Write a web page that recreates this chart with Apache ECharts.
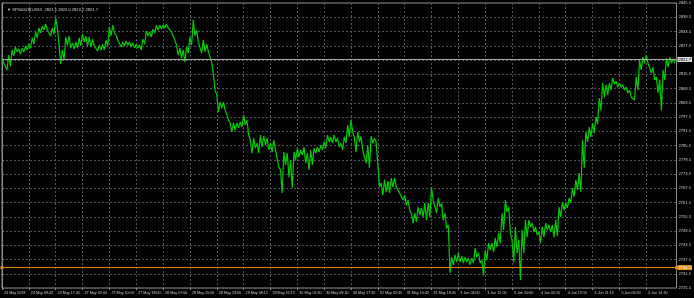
<!DOCTYPE html>
<html>
<head>
<meta charset="utf-8">
<script src="https://cdn.jsdelivr.net/npm/echarts@6/dist/echarts.min.js"></script>
<style>
html,body{margin:0;padding:0;background:#000;}
#chart{width:694px;height:298px;}
</style>
</head>
<body>
<div id="chart"></div>
<script>
// ---- data (SP500USD, M15) ----
const titleText = '\u25BC SP500USD,M15  2821.1 2822.0 2820.2 2821.7';
const xLabels = ['23 May 2019','24 May 09:45','24 May 17:45','27 May 02:00','27 May 10:00','27 May 18:00',
  '28 May 07:00','28 May 15:00','28 May 23:00','29 May 08:15','29 May 16:15','30 May 01:30',
  '30 May 09:30','30 May 17:30','31 May 02:45','31 May 10:45','31 May 18:45','3 Jun 04:00',
  '3 Jun 12:00','3 Jun 20:00','4 Jun 05:15','4 Jun 13:15','4 Jun 21:15','5 Jun 06:30','5 Jun 14:30'];
const barsPerLabel = 32;
const barsPerSample = 4;
const yMin = 2725.5, yMax = 2845.5, yStep = 6;
const bidPrice = 2821.7;
const levelPrice = 2734.1;

const highs = [
 2822.3,2820.2,2823.6,2825.7,2827.0,2826.1,2826.5,2827.4,2828.2,2830.8,
 2833.3,2835.0,2835.8,2836.7,2834.5,2835.0,2839.2,2827.8,2825.7,2831.2,
 2831.6,2828.7,2829.1,2830.8,2832.4,2831.6,2831.2,2830.3,2827.8,2827.8,
 2828.2,2829.9,2835.4,2836.2,2832.0,2829.5,2829.1,2829.5,2829.1,2828.7,
 2828.2,2827.8,2830.3,2833.7,2833.3,2834.5,2836.2,2836.2,2836.2,2836.7,
 2835.8,2832.9,2827.8,2826.5,2825.7,2827.0,2831.2,2838.3,2834.1,2829.1,
 2829.9,2828.2,2824.4,2815.2,2806.7,2803.8,2803.8,2800.4,2795.0,2795.0,
 2795.0,2795.4,2798.3,2796.2,2787.8,2788.6,2786.5,2789.9,2789.5,2788.6,
 2786.5,2787.8,2783.6,2775.2,2782.7,2782.3,2779.4,2782.7,2784.4,2783.6,
 2784.8,2782.3,2783.6,2784.4,2784.8,2785.7,2787.0,2789.9,2789.1,2789.9,
 2788.6,2786.5,2789.1,2794.1,2796.2,2789.1,2791.2,2789.1,2783.6,2785.7,
 2789.5,2788.6,2777.3,2769.7,2771.0,2770.5,2771.8,2771.8,2768.0,2765.9,
 2764.6,2762.5,2757.0,2757.0,2759.6,2759.2,2761.3,2761.3,2768.0,2762.5,
 2763.4,2761.3,2757.0,2752.0,2738.5,2739.4,2740.2,2738.9,2738.5,2738.1,
 2738.1,2742.3,2740.2,2737.3,2741.5,2744.4,2744.4,2746.5,2748.6,2757.0,
 2762.5,2759.6,2745.7,2751.2,2745.7,2749.9,2754.1,2754.1,2752.8,2751.2,
 2749.0,2751.2,2752.8,2752.0,2752.0,2754.1,2759.6,2761.7,2761.3,2763.4,
 2767.6,2771.0,2773.9,2787.8,2791.2,2793.3,2795.0,2797.5,2805.5,2811.8,
 2811.0,2811.8,2813.9,2812.6,2811.8,2811.0,2810.1,2808.9,2806.7,2814.3,
 2821.5,2822.7,2823.6,2819.4,2818.5,2814.3,2813.1,2817.3,2822.3,2822.7,2822.0
];
const lows = [
 2820.2,2817.3,2818.9,2823.2,2824.9,2824.0,2824.9,2825.7,2826.5,2828.2,
 2830.8,2832.9,2834.1,2834.1,2831.6,2832.4,2835.0,2819.8,2821.5,2827.8,
 2826.5,2826.1,2826.5,2827.4,2829.1,2827.4,2827.0,2827.4,2825.3,2825.7,
 2825.7,2827.4,2831.6,2832.9,2829.9,2827.0,2827.4,2827.8,2827.0,2826.5,
 2826.5,2825.7,2828.2,2831.6,2831.2,2832.9,2834.1,2834.5,2835.0,2835.0,
 2833.3,2829.9,2823.6,2822.3,2820.6,2824.4,2827.8,2831.6,2829.1,2824.4,
 2824.9,2824.9,2820.6,2808.9,2799.6,2801.3,2800.4,2796.2,2791.2,2792.0,
 2792.9,2793.3,2794.1,2789.9,2782.3,2784.4,2782.3,2784.8,2785.7,2783.6,
 2782.7,2783.6,2776.4,2765.5,2777.3,2772.2,2767.6,2779.4,2780.6,2781.5,
 2778.1,2775.2,2777.3,2782.3,2782.7,2783.6,2784.4,2787.0,2786.5,2787.0,
 2784.8,2783.6,2786.5,2789.1,2791.2,2782.7,2787.0,2783.6,2778.1,2776.0,
 2786.5,2787.0,2768.0,2764.6,2765.9,2765.5,2768.0,2768.0,2765.5,2762.5,
 2760.4,2758.3,2752.8,2753.3,2756.2,2755.4,2754.1,2755.4,2762.5,2757.0,
 2759.6,2754.1,2750.7,2731.8,2735.2,2736.4,2736.4,2736.0,2736.4,2735.2,
 2736.0,2738.5,2736.0,2730.9,2737.3,2741.5,2740.6,2742.7,2744.4,2749.9,
 2757.5,2748.6,2736.4,2740.2,2728.8,2740.2,2746.9,2751.2,2749.0,2747.8,
 2744.4,2746.9,2749.9,2749.0,2746.9,2747.4,2755.4,2758.3,2759.2,2761.3,
 2763.8,2766.7,2765.9,2776.0,2787.0,2789.1,2790.7,2794.5,2800.4,2805.9,
 2806.7,2808.9,2811.4,2810.1,2810.1,2808.9,2807.6,2805.9,2804.6,2808.9,
 2817.3,2820.2,2820.2,2816.0,2813.1,2807.6,2800.4,2813.1,2818.5,2820.2,2820.2
];

// ---- build series (bar index on x) ----
const seriesData = [];
for (let j = 0; j < highs.length; j++) {
  seriesData.push([j * barsPerSample, highs[j]]);
  seriesData.push([j * barsPerSample + barsPerSample / 2, lows[j]]);
}
const xTickValues = xLabels.map((_, i) => i * barsPerLabel);

const FONT = 'Liberation Sans';
const FS = 4.1;
const FSX = 3.7;
const chart = echarts.init(document.getElementById('chart'), null, {renderer: 'canvas'});
chart.setOption({
  backgroundColor: '#000000',
  animation: false,
  title: {
    text: titleText, left: 2, top: 3,
    textStyle: {color: '#d8d8d8', fontSize: FS, fontWeight: 'normal', fontFamily: FONT}
  },
  grid: {left: 2, right: 17, top: 3, bottom: 10, show: true, borderColor: '#8c8c8c', borderWidth: 1, backgroundColor: '#000'},
  xAxis: {
    type: 'value', min: 0, max: 804, interval: 16,
    axisLine: {show: false},
    axisTick: {show: true, length: 2, lineStyle: {color: '#8c8c8c'}, customValues: xTickValues},
    axisLabel: {
      color: '#d0d0d0', fontSize: FSX, fontFamily: FONT, align: 'left', margin: 3,
      padding: [0, 0, 0, 2],
      showMinLabel: true, showMaxLabel: false,
      formatter: function (v) {
        if (v % barsPerLabel !== 0) return '';
        const s = xLabels[v / barsPerLabel];
        return s ? s : '';
      }
    },
    splitLine: {show: true, lineStyle: {color: '#4e5660', type: [2, 2], width: 1}}
  },
  yAxis: {
    type: 'value', position: 'right', min: yMin, max: yMax, interval: yStep,
    axisLine: {show: true, lineStyle: {color: '#8c8c8c'}},
    axisTick: {show: true, length: 2, lineStyle: {color: '#8c8c8c'}},
    axisLabel: {color: '#d0d0d0', fontSize: FS, fontFamily: FONT, margin: 2,
      formatter: function (v) { return v.toFixed(1); }},
    splitLine: {show: true, lineStyle: {color: '#4e5660', type: [2, 2], width: 1}}
  },
  series: [{
    type: 'line',
    data: seriesData,
    showSymbol: false,
    symbol: 'none',
    lineStyle: {color: '#00cc00', width: 1.2},
    silent: true,
    z: 3,
    markLine: {
      silent: true,
      animation: false,
      symbol: ['none', 'none'],
      lineStyle: {color: '#a8a8a8', type: 'solid', width: 1},
      label: {show: true, position: 'end', distance: 1, formatter: bidPrice.toFixed(1),
        color: '#000', backgroundColor: '#d6d6d6', padding: [1, 1, 0, 1],
        fontSize: FS, fontFamily: FONT},
      data: [{yAxis: bidPrice}]
    }
  }, {
    type: 'line',
    data: [],
    silent: true,
    z: 2,
    markLine: {
      silent: true,
      animation: false,
      symbol: ['rect', 'rect'],
      symbolSize: [3, 3],
      lineStyle: {color: '#d9820f', type: 'solid', width: 1},
      itemStyle: {color: '#f09a2a'},
      label: {show: true, position: 'end', distance: 1, formatter: levelPrice.toFixed(1),
        color: '#ffffff', backgroundColor: '#e8901a', padding: [1, 1, 0, 1],
        fontSize: FS, fontFamily: FONT},
      data: [{yAxis: levelPrice}]
    }
  }]
});
</script>
</body>
</html>
